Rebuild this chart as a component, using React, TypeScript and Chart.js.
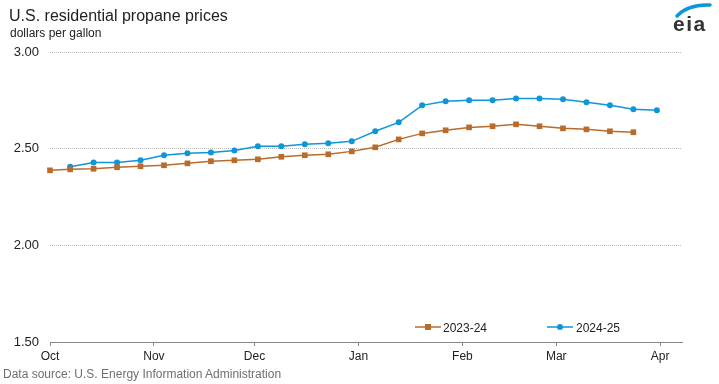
import React, { useEffect, useRef } from "react";
import { Chart, registerables } from "chart.js";

Chart.register(...registerables);

// Month ticks (days since Oct 1)
const monthLabels = ["Oct", "Nov", "Dec", "Jan", "Feb", "Mar", "Apr"];
const monthStartDays = [0, 31, 61, 92, 123, 151, 182];

// 2023-24 season (day of season, $/gal)
const days2324 = [0, 6, 13, 20, 27, 34, 41, 48, 55, 62, 69, 76, 83, 90, 97, 104, 111, 118, 125, 132, 139, 146, 153, 160, 167, 174];
const prices2324 = [2.388, 2.393, 2.396, 2.404, 2.409, 2.414, 2.424, 2.435, 2.44, 2.445, 2.458, 2.466, 2.471, 2.486, 2.507, 2.548, 2.579, 2.595, 2.61, 2.616, 2.626, 2.616, 2.605, 2.6, 2.59, 2.585];

// 2024-25 season
const days2425 = [6, 13, 20, 27, 34, 41, 48, 55, 62, 69, 76, 83, 90, 97, 104, 111, 118, 125, 132, 139, 146, 153, 160, 167, 174, 181];
const prices2425 = [2.407, 2.429, 2.429, 2.44, 2.466, 2.476, 2.48, 2.491, 2.512, 2.512, 2.523, 2.528, 2.538, 2.59, 2.636, 2.724, 2.745, 2.75, 2.75, 2.76, 2.76, 2.755, 2.74, 2.724, 2.704, 2.699];

const yTicks = [1.5, 2.0, 2.5, 3.0];

const BROWN = "#b86b2b";
const BLUE = "#0e96d8";
const FONT = '"Liberation Sans", Arial, sans-serif';

export default function App() {
  const ref = useRef<HTMLCanvasElement | null>(null);

  useEffect(() => {
    if (!ref.current) return;
    const chart = new Chart(ref.current, {
      type: "line",
      data: {
        datasets: [
          {
            label: "2023-24",
            data: days2324.map((d, i) => ({ x: d, y: prices2324[i] })),
            borderColor: BROWN,
            backgroundColor: BROWN,
            borderWidth: 1.5,
            pointStyle: "rect",
            pointRadius: 4,
            pointBorderWidth: 0,
            tension: 0,
            clip: false,
          },
          {
            label: "2024-25",
            data: days2425.map((d, i) => ({ x: d, y: prices2425[i] })),
            borderColor: BLUE,
            backgroundColor: BLUE,
            borderWidth: 1.5,
            pointStyle: "circle",
            pointRadius: 3,
            pointBorderWidth: 0,
            tension: 0,
            clip: false,
          },
        ],
      },
      options: {
        animation: false,
        responsive: false,
        layout: { padding: { top: 52, right: 37, left: 0, bottom: 0 } },
        plugins: {
          legend: { display: false },
          tooltip: { enabled: false },
          title: { display: false },
        },
        scales: {
          x: {
            type: "linear",
            min: 0,
            max: 188.5,
            afterBuildTicks: (scale: any) => {
              scale.ticks = monthStartDays.map((v) => ({ value: v }));
            },
            afterFit: (scale: any) => {
              scale.height = 42;
            },
            ticks: {
              autoSkip: false,
              maxRotation: 0,
              padding: 3,
              color: "#222",
              font: { family: FONT, size: 12 },
              callback: (value: any) => {
                const idx = monthStartDays.indexOf(Number(value));
                return idx >= 0 ? monthLabels[idx] : "";
              },
            },
            grid: {
              drawOnChartArea: false,
              drawTicks: true,
              tickLength: 4,
              tickColor: "#888",
              tickWidth: 1,
            },
            border: { display: true, color: "#888", width: 1 },
          },
          y: {
            min: 1.5,
            max: 3.0,
            afterBuildTicks: (scale: any) => {
              scale.ticks = yTicks.map((v) => ({ value: v }));
            },
            afterFit: (scale: any) => {
              scale.width = 50;
            },
            ticks: {
              padding: 11,
              color: "#222",
              font: { family: FONT, size: 13 },
              callback: (value: any) => Number(value).toFixed(2),
            },
            grid: {
              drawTicks: false,
              color: "#bdbdbd",
              lineWidth: 1,
            },
            border: { display: false, dash: [1, 1] },
          },
        },
      },
    });
    return () => chart.destroy();
  }, []);

  const textBase: React.CSSProperties = {
    position: "absolute",
    fontFamily: FONT,
    whiteSpace: "nowrap",
    margin: 0,
  };

  return (
    <div style={{ position: "fixed", left: 0, top: 0, width: 719, height: 384, background: "#fff", overflow: "hidden" }}>
      <canvas ref={ref} width={719} height={384} style={{ position: "absolute", left: 0, top: 0, width: 719, height: 384 }} />
      <div style={{ ...textBase, left: 9, top: 8, fontSize: 16, lineHeight: "16px", color: "#222" }}>
        U.S. residential propane prices
      </div>
      <div style={{ ...textBase, left: 10, top: 27, fontSize: 12, lineHeight: "12px", color: "#222" }}>
        dollars per gallon
      </div>
      <div style={{ ...textBase, left: 3, top: 368, fontSize: 12, lineHeight: "12px", color: "#6f6f6f" }}>
        Data source: U.S. Energy Information Administration
      </div>
      {/* legend */}
      <svg style={{ position: "absolute", left: 414, top: 322 }} width={28} height={10}>
        <line x1={1} y1={5} x2={27} y2={5} stroke={BROWN} strokeWidth={1.5} />
        <rect x={11} y={2} width={6} height={6} fill={BROWN} />
      </svg>
      <div style={{ ...textBase, left: 443, top: 322, fontSize: 12, lineHeight: "12px", color: "#222" }}>2023-24</div>
      <svg style={{ position: "absolute", left: 546, top: 322 }} width={28} height={10}>
        <line x1={1} y1={5} x2={27} y2={5} stroke={BLUE} strokeWidth={1.5} />
        <circle cx={14} cy={5} r={3} fill={BLUE} />
      </svg>
      <div style={{ ...textBase, left: 576, top: 322, fontSize: 12, lineHeight: "12px", color: "#222" }}>2024-25</div>
      {/* eia logo */}
      <svg style={{ position: "absolute", left: 670, top: 0 }} width={45} height={20}>
        <path d="M 7 16 Q 18 4 40 5" stroke={BLUE} strokeWidth={3.5} fill="none" strokeLinecap="round" />
      </svg>
      <div style={{ ...textBase, left: 673, top: 13, fontSize: 21, lineHeight: "21px", fontWeight: "bold", letterSpacing: 1.5, color: "#333" }}>
        eia
      </div>
    </div>
  );
}
